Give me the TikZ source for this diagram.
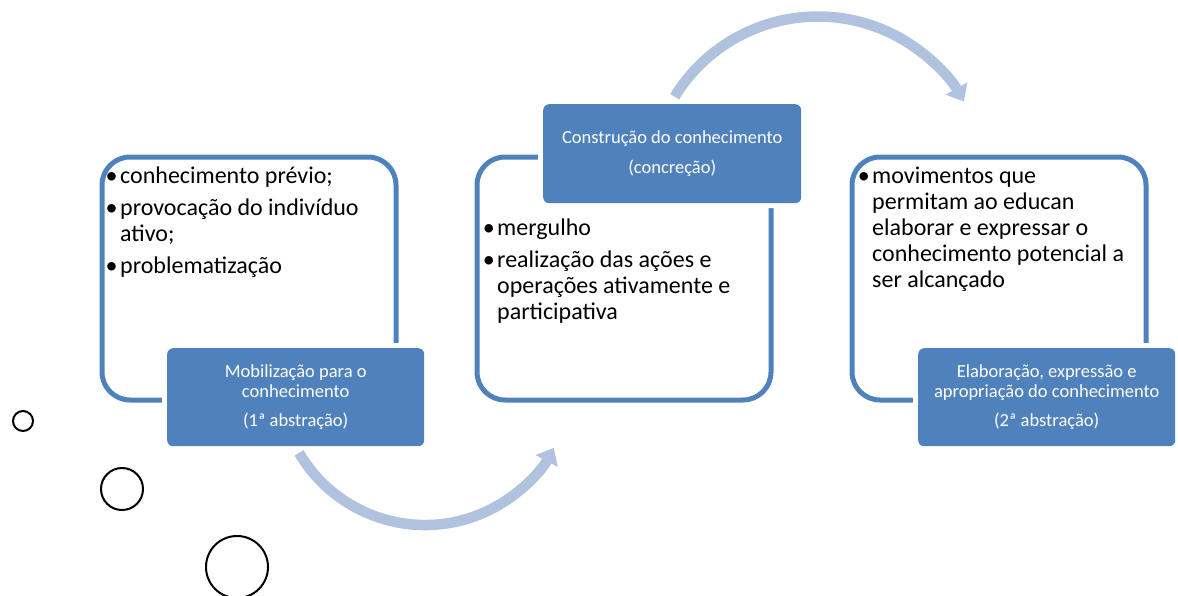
\documentclass[tikz,border=0pt]{standalone}
\usepackage{fontspec}
\setmainfont{Carlito}
\usetikzlibrary{arrows.meta,calc}
\definecolor{accent}{HTML}{4F81BD}
\definecolor{arrowblue}{HTML}{B0C2DE}
\newcommand\bulmark{\leavevmode\llap{•\kern2.5pt}}
\begin{document}
\begin{tikzpicture}[x=1pt,y=1pt,
  outlinebox/.style={draw=accent, line width=5pt, rounded corners=28pt, inner sep=0pt,
    minimum width=294pt, minimum height=243pt, anchor=north west},
  darkbox/.style={fill=accent, rounded corners=6pt, preaction={draw=white, line width=10pt},
    text=white, inner sep=0pt, minimum width=257pt, minimum height=98pt, anchor=north west,
    align=center, font=\fontsize{18.5}{20}\selectfont},
  bodytext/.style={anchor=base west, inner sep=0pt, font=\fontsize{24}{26}\selectfont},
  bigarrow/.style={draw=arrowblue, line width=10.5pt, -{Triangle[length=15pt,width=24pt]}},
  ring/.style={draw=black, line width=2pt, circle, inner sep=0pt}
]
\useasboundingbox (0,0) rectangle (1178,-595);

% outline boxes
\node[outlinebox] (o1) at (99.5,-154.5) {};
\node[outlinebox] (o2) at (474.5,-154.5) {};
\node[outlinebox] (o3) at (849.5,-154.5) {};

% dark label boxes
\node[darkbox] (d1) at (167,-348) {Mobilização para o\\conhecimento\\[9pt](1ª abstração)};
\node[darkbox, minimum width=258pt, minimum height=99pt] (d2) at (543,-104) {Construção do conhecimento\\[10pt](concreção)};
\node[darkbox] (d3) at (918,-348) {Elaboração, expressão e\\apropriação do conhecimento\\[9pt](2ª abstração)};

% body texts
\node[bodytext] (t1) at (120,-183) {\parbox[t]{270pt}{\raggedright
  \bulmark conhecimento prévio;\\[6pt]
  \bulmark provocação do indivíduo\\ativo;\\[6pt]
  \bulmark problematização}};
\node[bodytext] (t2) at (497,-235) {\parbox[t]{270pt}{\raggedright
  \bulmark mergulho\\[6pt]
  \bulmark realização das ações e\\operações ativamente e\\participativa}};
\node[bodytext] (t3) at (872,-183) {\parbox[t]{270pt}{\raggedright
  \bulmark movimentos que\\permitam ao educan\\elaborar e expressar o\\conhecimento potencial a\\ser alcançado}};

% curved arrows
\coordinate (arcb) at (425,-379);
\coordinate (arct) at (817,-184);
\draw[bigarrow] ([shift={(210.4:146)}]arcb) arc[start angle=210.4, end angle=331.9, radius=146];
\draw[bigarrow] ([shift={(148.5:167)}]arct) arc[start angle=148.5, end angle=29.6, radius=168];

% circles
\node[ring, minimum size=20pt] (c1) at (23,-421) {};
\node[ring, minimum size=42pt] (c2) at (122,-489) {};
\node[ring, minimum size=62pt] (c3) at (237,-567) {};
\end{tikzpicture}
\end{document}
